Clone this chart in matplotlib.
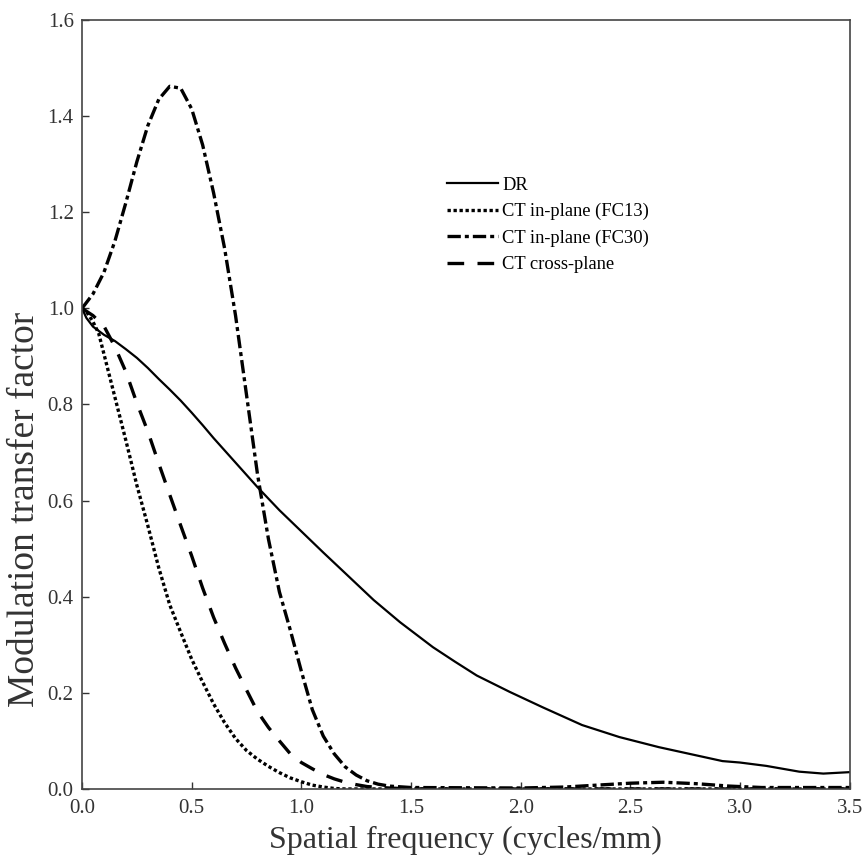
import matplotlib
matplotlib.use("Agg")
import matplotlib.pyplot as plt
from matplotlib.ticker import FormatStrFormatter

plt.rcParams['font.family'] = ['Liberation Serif', 'DejaVu Serif']

# MTF curves (spatial frequency in cycles/mm)
freq_dr = [0.0, 0.02, 0.05, 0.1, 0.15, 0.2, 0.25, 0.3, 0.35, 0.4, 0.45, 0.5,
           0.55, 0.6, 0.7, 0.8, 0.9, 1.0, 1.1, 1.2, 1.33, 1.45, 1.6, 1.7, 1.8,
           1.95, 2.1, 2.28, 2.45, 2.63, 2.8, 2.92, 3.0, 3.12, 3.27, 3.38, 3.5]
mtf_dr = [1.0, 0.98, 0.962, 0.945, 0.932, 0.915, 0.897, 0.876, 0.853, 0.831,
          0.808, 0.783, 0.757, 0.73, 0.679, 0.628, 0.58, 0.536, 0.492, 0.449,
          0.393, 0.347, 0.295, 0.265, 0.236, 0.202, 0.17, 0.133, 0.108, 0.087,
          0.07, 0.058, 0.055, 0.048, 0.036, 0.032, 0.035]

freq_fc13 = [0.0, 0.025, 0.05, 0.076, 0.1, 0.15, 0.2, 0.25, 0.3, 0.35, 0.4,
             0.45, 0.5, 0.545, 0.6, 0.65, 0.7, 0.75, 0.8, 0.85, 0.9, 0.95,
             1.0, 1.05, 1.1, 1.15, 1.2, 1.5, 2.0, 2.5, 3.0, 3.5]
mtf_fc13 = [1.0, 0.99, 0.972, 0.948, 0.905, 0.815, 0.725, 0.632, 0.548, 0.46,
            0.383, 0.326, 0.27, 0.227, 0.177, 0.138, 0.105, 0.08, 0.062,
            0.047, 0.034, 0.023, 0.015, 0.008, 0.004, 0.001, 0.0, 0.0, 0.0,
            0.0, 0.0, 0.0]

freq_fc30 = [0.0, 0.05, 0.1, 0.15, 0.2, 0.25, 0.3, 0.35, 0.4, 0.45, 0.5,
             0.55, 0.6, 0.65, 0.7, 0.75, 0.8, 0.85, 0.9, 0.95, 1.0, 1.05,
             1.1, 1.15, 1.2, 1.25, 1.3, 1.35, 1.4, 1.5, 2.0, 2.2, 2.35, 2.5,
             2.65, 2.8, 2.95, 3.1, 3.5]
mtf_fc30 = [1.0, 1.03, 1.075, 1.14, 1.22, 1.305, 1.38, 1.435, 1.462, 1.458,
            1.415, 1.34, 1.24, 1.125, 0.985, 0.82, 0.655, 0.52, 0.41, 0.33,
            0.245, 0.165, 0.11, 0.073, 0.046, 0.029, 0.017, 0.01, 0.006,
            0.003, 0.002, 0.004, 0.008, 0.012, 0.014, 0.011, 0.006, 0.003,
            0.003]

freq_cross = [0.0, 0.05, 0.1, 0.15, 0.2, 0.25, 0.3, 0.35, 0.4, 0.45, 0.5,
              0.55, 0.6, 0.65, 0.7, 0.75, 0.8, 0.85, 0.9, 0.95, 1.0, 1.05,
              1.1, 1.15, 1.2, 1.25, 1.3, 1.4, 1.5, 2.0, 2.5, 3.0, 3.5]
mtf_cross = [1.0, 0.985, 0.963, 0.92, 0.868, 0.803, 0.744, 0.677, 0.612,
             0.548, 0.485, 0.418, 0.357, 0.303, 0.252, 0.206, 0.161, 0.128,
             0.1, 0.073, 0.055, 0.042, 0.03, 0.021, 0.014, 0.009, 0.005,
             0.002, 0.0, 0.0, 0.0, 0.0, 0.0]

labels = ['DR', 'CT in-plane (FC13)', 'CT in-plane (FC30)', 'CT cross-plane']

fig = plt.figure(figsize=(8.67, 8.65), dpi=100)
ax = fig.add_axes([0.0946, 0.0879, 0.8854, 0.889])

ax.plot(freq_dr, mtf_dr, color='black', lw=1.6, label=labels[0])
ax.plot(freq_fc13, mtf_fc13, color='black', lw=2.4, linestyle=(0, (1, 0.8)),
        label=labels[1])
ax.plot(freq_fc30, mtf_fc30, color='black', lw=2.4,
        linestyle=(0, (4, 1.2, 1.2, 1.2)), label=labels[2])
ax.plot(freq_cross, mtf_cross, color='black', lw=2.4, linestyle=(0, (5, 4)),
        label=labels[3])

ax.set_xlim(0, 3.5)
ax.set_ylim(0, 1.6)
ax.set_xticks([0.0, 0.5, 1.0, 1.5, 2.0, 2.5, 3.0, 3.5])
ax.set_yticks([0.0, 0.2, 0.4, 0.6, 0.8, 1.0, 1.2, 1.4, 1.6])
ax.xaxis.set_major_formatter(FormatStrFormatter('%.1f'))
ax.yaxis.set_major_formatter(FormatStrFormatter('%.1f'))
ax.tick_params(direction='in', length=5, width=1, labelsize=15, colors='#333333',
               top=False, right=False)
ax.tick_params(axis='x', pad=7)
ax.tick_params(axis='y', pad=6)
for sp in ax.spines.values():
    sp.set_color('#444444')
    sp.set_linewidth(1.2)

ax.set_xlabel('Spatial frequency (cycles/mm)', fontsize=23, color='#333333')
ax.xaxis.set_label_coords(0.5, -0.048)
ax.set_ylabel('Modulation transfer factor', fontsize=27, color='#333333')
ax.yaxis.set_label_coords(-0.052, 0.363)

ax.legend(loc='upper left', bbox_to_anchor=(0.475, 0.796), frameon=False,
          fontsize=13.3, handlelength=2.8, handletextpad=0.2, borderpad=0,
          borderaxespad=0, labelspacing=0.5)

fig.savefig('out.png', dpi=100)
